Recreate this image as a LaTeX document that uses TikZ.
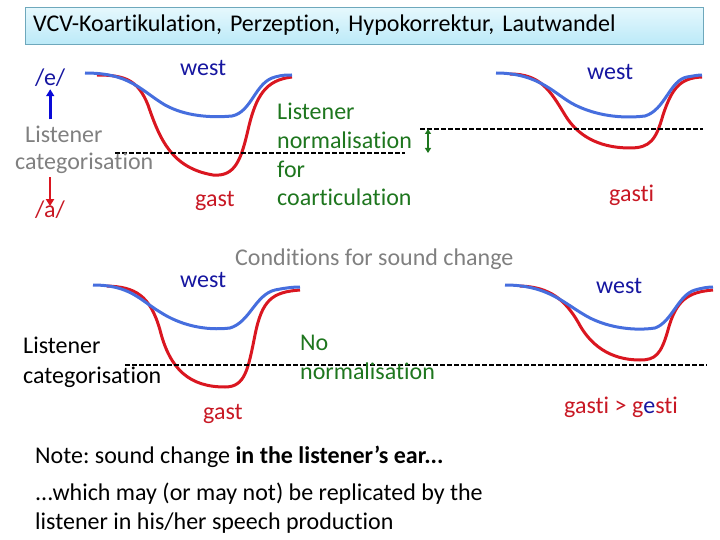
\documentclass[tikz,border=0pt]{standalone}
\usepackage{fontspec}
\setmainfont{Carlito}[Ligatures=NoCommon]
\usetikzlibrary{positioning, arrows.meta}
\frenchspacing
\definecolor{curveblue}{RGB}{70,110,222}
\definecolor{curvered}{RGB}{218,22,32}
\definecolor{wordnavy}{RGB}{22,22,160}
\definecolor{wordred}{RGB}{200,24,36}
\definecolor{arrowblue}{RGB}{10,10,215}
\definecolor{normgreen}{RGB}{30,118,30}
\definecolor{labelgray}{RGB}{128,128,128}
\definecolor{titletop}{RGB}{230,248,253}
\definecolor{titlebot}{RGB}{188,234,248}
\definecolor{titleline}{RGB}{110,168,188}
\tikzset{
  vcvtxt/.style   = {font=\fontsize{24}{28.8}\selectfont, inner sep=0pt,
                     anchor=base west},
  vcvwest/.style  = {vcvtxt, text=wordnavy},
  vcvgast/.style  = {vcvtxt, text=wordred},
  vcvnorm/.style  = {vcvtxt, text=normgreen, align=left},
  vcvblue/.style  = {draw=curveblue, line width=3pt},
  vcvred/.style   = {draw=curvered, line width=3pt},
  vcvcut/.style   = {draw=black, line width=2.6pt, dash pattern=on 5pt off 2pt},
  vcvarrow/.style = {line width=2.6pt, -{Triangle[length=7pt,width=8pt]}},
  vcvgap/.style   = {line width=2pt, draw=normgreen,
                     {Triangle[length=5pt,width=6pt]}-{Triangle[length=5pt,width=6pt]}}
}
\begin{document}
\begin{tikzpicture}[x=1pt, y=-1pt]
  \useasboundingbox (0,0) rectangle (720,540);

  \node[draw=titleline, top color=titletop, bottom color=titlebot,
        anchor=north west, minimum width=678pt, minimum height=35pt,
        text width=662pt, align=left, inner sep=8pt,
        font=\fontsize{24}{28}\selectfont] (title) at (25,7)
        {VCV-Koartikulation, Perzeption, Hypokorrektur, Lautwandel};

  % top left: west / gast
  \draw[vcvred]  (97,75) .. controls (125,75) and (138,80) .. (148,105)
                 .. controls (160,140) and (172,168) .. (213,175)
                 .. controls (235,177) and (241,160) .. (248,130)
                 .. controls (256,95) and (266,80) .. (292,77);
  \draw[vcvblue] (85,73) .. controls (130,73) and (140,90) .. (165,105)
                 .. controls (185,116) and (210,118) .. (232,116)
                 .. controls (252,112) and (255,82) .. (275,77)
                 .. controls (282,75) and (287,75) .. (292,75);
  \coordinate (cutAL) at (115,153);
  \coordinate (cutAR) at (405,153);
  \draw[vcvcut] (cutAL) -- (cutAR);

  \node[vcvwest] (eV)    at (35,86)   {/e/};
  \node[vcvwest] (westA) at (180,76)  {west};
  \node[vcvtxt, text=labelgray] (lcatA) at (25,143)  {Listener};
  \node[vcvtxt, text=labelgray] (lcatB) at (15,170)  {categorisation};
  \node[vcvgast] (aV)    at (35,218)  {/a/};
  \node[vcvgast] (gastA) at (195,207) {gast};
  \node[vcvnorm] (normA) at (277,206)
        {Listener\\normalisation\\for\\coarticulation};

  \draw[vcvarrow, arrowblue, shorten <=7pt, shorten >=2pt]
        (lcatA.north -| eV.south) -- (eV.south);
  \draw[vcvarrow, curvered, shorten <=3pt, shorten >=-5pt]
        (lcatB.south -| aV.north) -- (aV.north);

  % top right: west / gasti
  \draw[vcvred]  (510,74) .. controls (540,74) and (550,90) .. (565,115)
                 .. controls (580,140) and (605,148) .. (630,148)
                 .. controls (650,148) and (656,140) .. (663,115)
                 .. controls (672,88) and (680,78) .. (702,77);
  \draw[vcvblue] (496,73) .. controls (540,73) and (555,95) .. (575,105)
                 .. controls (595,115) and (620,119) .. (645,116)
                 .. controls (665,110) and (670,80) .. (687,77)
                 .. controls (693,76) and (698,75) .. (702,75);
  \coordinate (cutBL) at (420,129);
  \coordinate (cutBR) at (703,129);
  \draw[vcvcut] (cutBL) -- (cutBR);
  \coordinate (gapTop) at (428,129);
  \coordinate (gapBot) at (428,153);
  \draw[vcvgap] (gapTop) -- (gapBot);

  \node[vcvwest] (westB) at (587,80)  {west};
  \node[vcvgast] (gastB) at (609,202) {gasti};

  \node[vcvtxt, text=labelgray] (cond) at (235,265)
        {Conditions for sound change};

  % bottom left: west / gast
  \draw[vcvred]  (107,286) .. controls (135,287) and (150,295) .. (160,330)
                 .. controls (170,370) and (190,387) .. (225,387)
                 .. controls (245,387) and (248,370) .. (255,335)
                 .. controls (262,300) and (272,292) .. (300,290);
  \draw[vcvblue] (93,285) .. controls (130,285) and (140,300) .. (160,312)
                 .. controls (180,325) and (205,331) .. (230,328)
                 .. controls (250,322) and (255,295) .. (275,290)
                 .. controls (285,288) and (293,287) .. (300,287);
  \coordinate (cutCL) at (125,365);
  \coordinate (cutCR) at (707,365);
  \draw[vcvcut] (cutCL) -- (cutCR);

  \node[vcvwest] (westC) at (180,287) {west};
  \node[vcvtxt]  (lcatC) at (23,353)  {Listener};
  \node[vcvtxt]  (lcatD) at (23,383)  {categorisation};
  \node[vcvgast] (gastC) at (203,419) {gast};
  \node[vcvnorm] (normC) at (300,379) {No\\normalisation};

  % bottom right: west / gasti > gesti
  \draw[vcvred]  (520,286) .. controls (550,287) and (565,300) .. (578,322)
                 .. controls (590,345) and (610,360) .. (640,360)
                 .. controls (655,360) and (661,355) .. (668,330)
                 .. controls (676,300) and (688,292) .. (713,290);
  \draw[vcvblue] (505,285) .. controls (550,285) and (565,305) .. (590,318)
                 .. controls (610,328) and (635,331) .. (655,328)
                 .. controls (672,322) and (678,295) .. (695,290)
                 .. controls (702,288) and (708,287) .. (713,287);

  \node[vcvwest] (westD) at (596,293) {west};
  \node[vcvgast] (gastD) at (564,413)
        {gasti > g\textcolor{wordnavy}{e}sti};

  \node[vcvtxt] (noteA) at (35,463)
        {Note: sound change \textbf{in the listener's ear...}};
  \node[vcvtxt, align=left] (noteB) at (35,529)
        {...which may (or may not) be replicated by the\\listener in his/her speech production};
\end{tikzpicture}
\end{document}
